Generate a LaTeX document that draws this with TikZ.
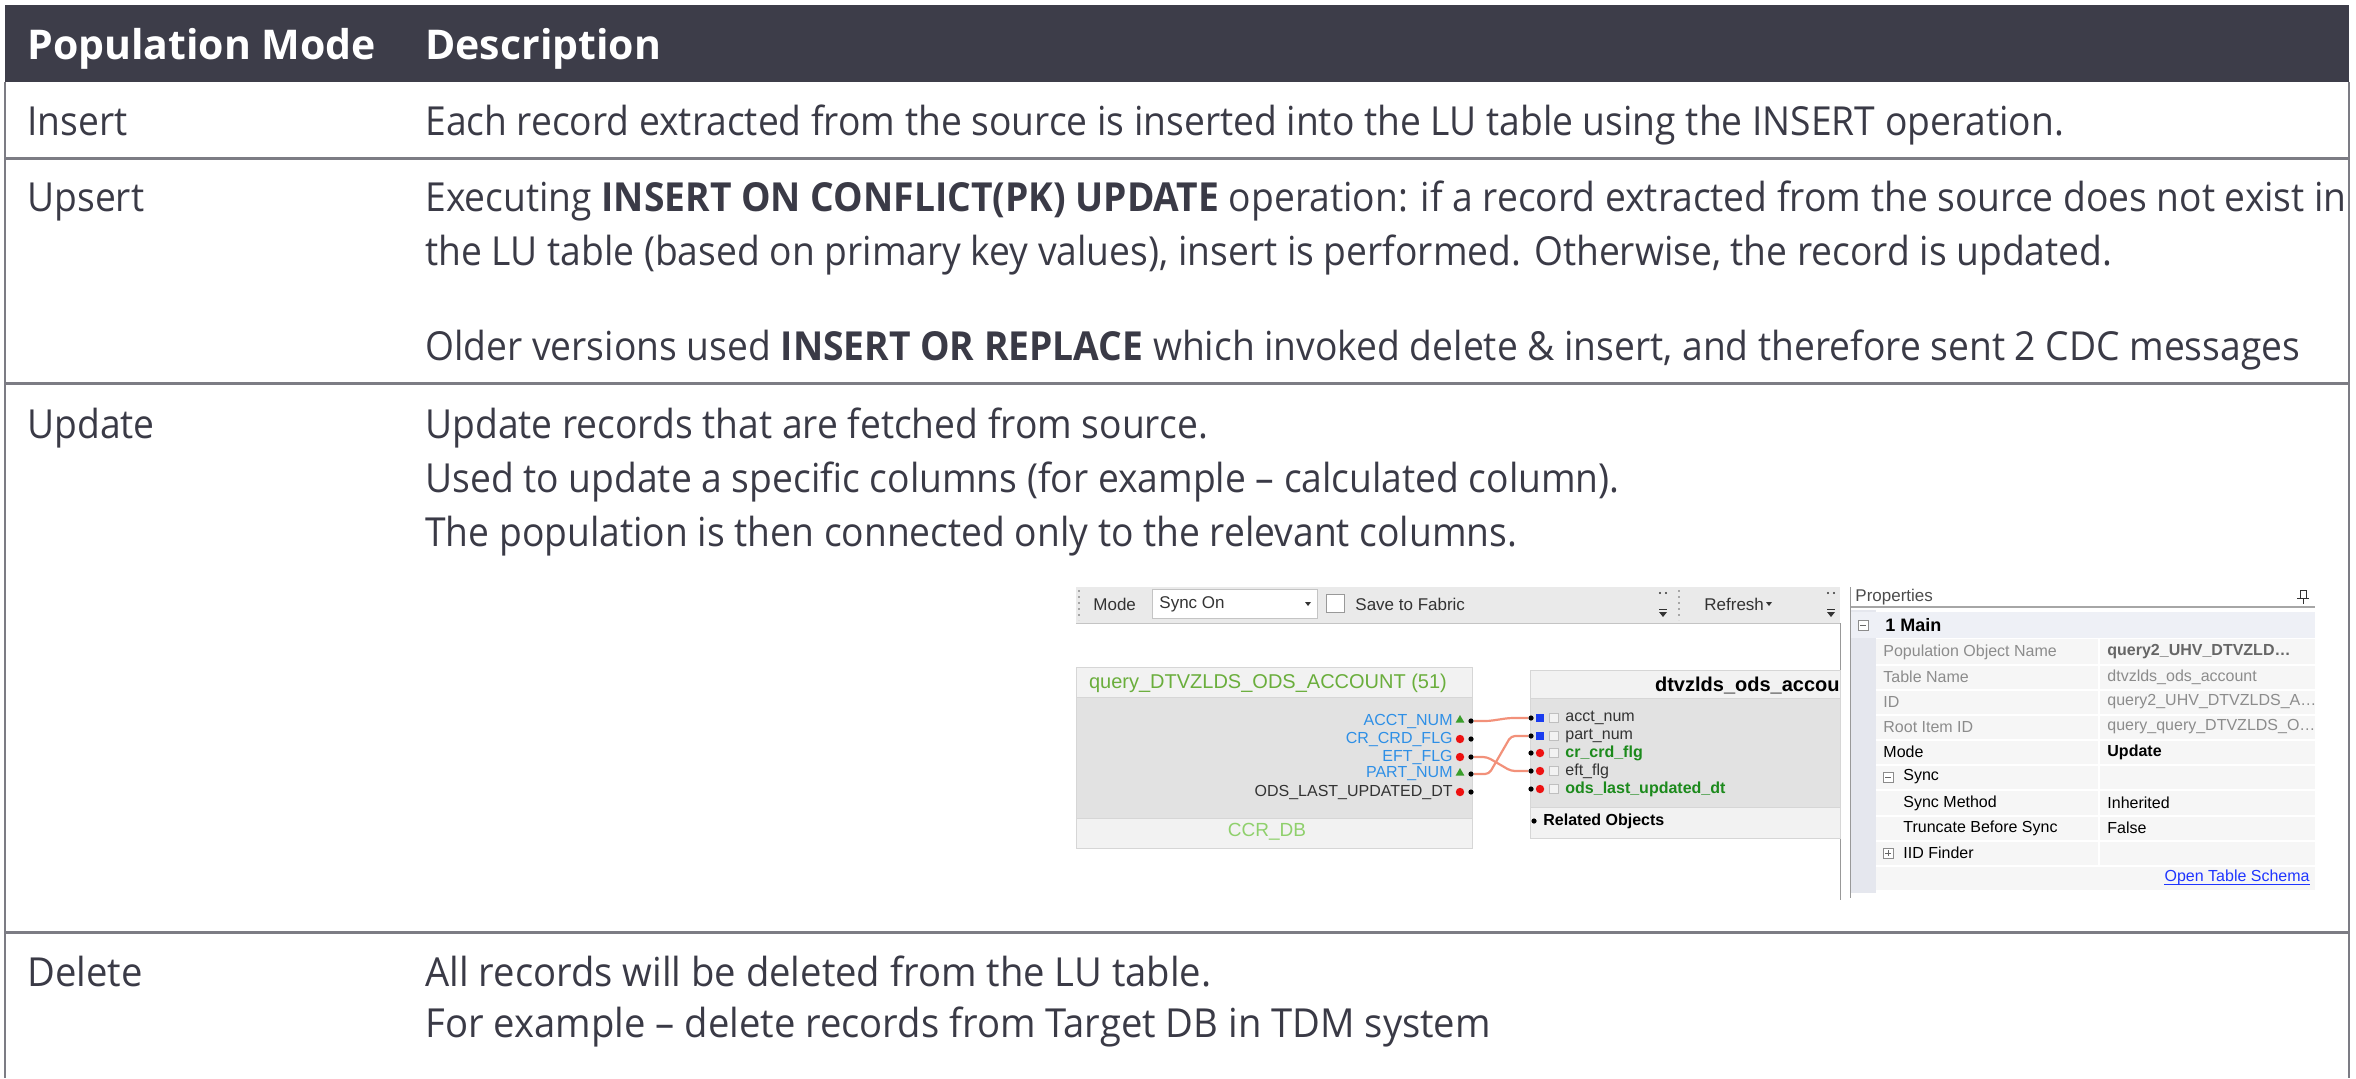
\documentclass[tikz,border=0pt]{standalone}
\usepackage{fontspec}
\setmainfont{Open Sans}[FakeStretch=0.93]
\newfontfamily\headfont{Open Sans}
\newfontfamily\delfont{Open Sans}[FakeStretch=0.955]
\newfontfamily\uifont{Liberation Sans}
\usetikzlibrary{positioning, calc, shapes.geometric}
\definecolor{headBg}{HTML}{3D3D49}
\definecolor{textMain}{HTML}{3A3A46}
\definecolor{ruleGray}{HTML}{7C7C84}
\definecolor{barBg}{HTML}{EAEAEA}
\definecolor{barLine}{HTML}{C4C4C4}
\definecolor{boxHead}{HTML}{F2F2F2}
\definecolor{boxBody}{HTML}{E2E2E2}
\definecolor{boxLine}{HTML}{D6D6D6}
\definecolor{fieldBlue}{HTML}{2E8FE6}
\definecolor{titleGreen}{HTML}{6AAE3C}
\definecolor{dbGreen}{HTML}{8FD06C}
\definecolor{colGreen}{HTML}{1C8A1C}
\definecolor{wireSalmon}{HTML}{F2917A}
\definecolor{markRed}{HTML}{EE1111}
\definecolor{markBlue}{HTML}{1A3CF0}
\definecolor{markGreen}{HTML}{3A9E2A}
\definecolor{uiDark}{HTML}{333333}
\definecolor{propGray}{HTML}{8C8C8C}
\definecolor{propGrid}{HTML}{F6F6F6}
\definecolor{propGutter}{HTML}{E5E7EE}
\definecolor{propSection}{HTML}{EEF0F6}
\definecolor{linkBlue}{HTML}{2036FF}
\tikzset{
  headtext/.style={anchor=base west, inner sep=0pt, text=white,
    font=\headfont\fontsize{20.5}{24}\selectfont\bfseries},
  celltext/.style={anchor=base west, inner sep=0pt, text=textMain,
    font=\fontsize{20}{24}\selectfont},
  deltext/.style={celltext, font=\delfont\fontsize{20}{24}\selectfont},
  rowrule/.style={draw=ruleGray, line width=1.5pt},
  siderule/.style={draw=ruleGray, line width=1pt},
  uitext/.style={anchor=west, inner sep=0pt, text=uiDark,
    font=\uifont\fontsize{8.5}{10}\selectfont},
  fieldtext/.style={uitext, font=\uifont\fontsize{8}{9}\selectfont},
  proptext/.style={uitext, font=\uifont\fontsize{8}{9}\selectfont},
  portdot/.style={circle, fill=black, inner sep=0pt, minimum size=2.6pt},
  reddot/.style={circle, fill=markRed, inner sep=0pt, minimum size=4.2pt},
  bluesq/.style={rectangle, fill=markBlue, inner sep=0pt, minimum size=3.6pt},
  greentri/.style={regular polygon, regular polygon sides=3, fill=markGreen,
    inner sep=0pt, minimum size=5pt},
  chkbox/.style={rectangle, draw=black!25, fill=black!5, inner sep=0pt, minimum size=4.5pt},
  expbox/.style={rectangle, draw=black!45, fill=white, inner sep=0pt, minimum size=5pt},
  wire/.style={draw=wireSalmon, line width=1.1pt, rounded corners=2pt},
}
\begin{document}
\begin{tikzpicture}[x=0.5pt, y=-0.5pt]
  \useasboundingbox (0,0) rectangle (2356,1078);

  % === Table frame ===
  \fill[headBg] (5,5) rectangle (2349,82);
  \draw[rowrule] (5,158) -- (2349,158);
  \draw[rowrule] (5,383) -- (2349,383);
  \draw[rowrule] (5,932) -- (2349,932);
  \draw[siderule] (5,82) -- (5,1078);
  \draw[siderule] (2349,82) -- (2349,1078);

  % === Header ===
  \node[headtext] (hmode) at (27,59) {Population Mode};
  \node[headtext] (hdesc) at (425,59) {Description};

  % === Insert ===
  \node[celltext] (insert) at (27,135) {Insert};
  \node[celltext] (insertA) at (425,135) {Each record extracted from the source is inserted into the LU table using the INSERT operation.};

  % === Upsert ===
  \node[celltext] (upsert) at (27,211) {Upsert};
  \node[celltext] (upsertA) at (425,211) {Executing \textbf{INSERT ON CONFLICT(PK) UPDATE} operation: if a record extracted from the source does not exist in};
  \node[celltext, below=27pt of upsertA.base west, anchor=base west] (upsertB) {the LU table (based on primary key values), insert is performed. Otherwise, the record is updated.};
  \node[celltext, below=47.5pt of upsertB.base west, anchor=base west] (upsertC) {Older versions used \textbf{INSERT OR REPLACE} which invoked delete \& insert, and therefore sent 2 CDC messages};

  % === Update ===
  \node[celltext] (update) at (27,438) {Update};
  \node[celltext] (updateA) at (425,438) {Update records that are fetched from source.};
  \node[celltext, below=27pt of updateA.base west, anchor=base west] (updateB) {Used to update a specific columns (for example – calculated column).};
  \node[celltext, below=27pt of updateB.base west, anchor=base west] (updateC) {The population is then connected only to the relevant columns.};

  % === Delete ===
  \node[deltext] (delete) at (27,986) {Delete};
  \node[deltext] (deleteA) at (425,986) {All records will be deleted from the LU table.};
  \node[deltext, below=25.5pt of deleteA.base west, anchor=base west] (deleteB) {For example – delete records from Target DB in TDM system};

  % === Screenshot: toolbar ===
  \fill[barBg] (1076,587) rectangle (1840,623);
  \draw[barLine] (1076,623) -- (1840,623);
  \draw[black!35, dotted, line width=1pt] (1079,590) -- (1079,620);
  \node[uitext] (modelbl) at (1093,604) {Mode};
  \node[draw=barLine, fill=white, minimum width=82.5pt, minimum height=14.5pt,
    inner sep=0pt, anchor=west] (combo) at (1152,603.5) {};
  \node[uitext] (syncon) at (1159,604) {Sync On};
  \fill[uiDark] (1305,602) -- (1311,602) -- (1308,606) -- cycle;
  \node[draw=black!40, fill=white, minimum size=9pt, inner sep=0pt] (fabricbox) at (1335.5,603.5) {};
  \node[uitext] (fabriclbl) at (1355,604) {Save to Fabric};
  \fill[uiDark] (1660,593) circle[radius=1.2] (1666,593) circle[radius=1.2];
  \draw[uiDark] (1659,609) -- (1667,609);
  \fill[uiDark] (1659,612) -- (1667,612) -- (1663,617) -- cycle;
  \draw[black!35, dotted, line width=1pt] (1679,590) -- (1679,620);
  \node[uitext] (refreshlbl) at (1704,604) {Refresh};
  \fill[uiDark] (1766,602) -- (1772,602) -- (1769,606) -- cycle;
  \fill[uiDark] (1828,593) circle[radius=1.2] (1834,593) circle[radius=1.2];
  \draw[uiDark] (1827,609) -- (1835,609);
  \fill[uiDark] (1827,612) -- (1835,612) -- (1831,617) -- cycle;
  \draw[black!40] (1840,623) -- (1840,900);

  % === Screenshot: source population box ===
  \filldraw[fill=boxHead, draw=boxLine] (1076,667) rectangle (1472,697);
  \filldraw[fill=boxBody, draw=boxLine] (1076,697) rectangle (1472,818);
  \filldraw[fill=boxHead, draw=boxLine] (1076,818) rectangle (1472,848);
  \node[uitext, anchor=center, text=titleGreen, font=\uifont\fontsize{10}{12}\selectfont] (srctitle) at (1268,683) {query\_DTVZLDS\_ODS\_ACCOUNT (51)};
  \node[uitext, anchor=center, text=dbGreen, font=\uifont\fontsize{9.5}{11}\selectfont] (srcdb) at (1267,832) {CCR\_DB};

  \node[fieldtext, anchor=east, text=fieldBlue] (fAcct) at (1453,721) {ACCT\_NUM};
  \node[fieldtext, anchor=east, text=fieldBlue] (fCrd) at (1453,739) {CR\_CRD\_FLG};
  \node[fieldtext, anchor=east, text=fieldBlue] (fEft) at (1453,757) {EFT\_FLG};
  \node[fieldtext, anchor=east, text=fieldBlue] (fPart) at (1453,774) {PART\_NUM};
  \node[fieldtext, anchor=east] (fOds) at (1453,792) {ODS\_LAST\_UPDATED\_DT};
  \node[greentri] (mAcct) at (1460,720) {};
  \node[reddot] (mCrd) at (1460,739) {};
  \node[reddot] (mEft) at (1460,757) {};
  \node[greentri] (mPart) at (1460,773) {};
  \node[reddot] (mOds) at (1460,792) {};
  \node[portdot] (s1) at (1471,721) {};
  \node[portdot] (s2) at (1471,739) {};
  \node[portdot] (s3) at (1471,757) {};
  \node[portdot] (s4) at (1471,774) {};
  \node[portdot] (s5) at (1471,792) {};

  % === Screenshot: target table box ===
  \filldraw[fill=boxHead, draw=boxLine] (1530,670) rectangle (1840,698);
  \filldraw[fill=boxBody, draw=boxLine] (1530,698) rectangle (1840,807);
  \filldraw[fill=boxHead, draw=boxLine] (1530,807) rectangle (1840,838);
  \node[uitext, anchor=east, text=black, font=\uifont\fontsize{10}{12}\selectfont\bfseries] (dsttitle) at (1840,685) {dtvzlds\_ods\_accou};

  \node[portdot] (d1) at (1531,718) {};
  \node[portdot] (d2) at (1531,736) {};
  \node[portdot] (d3) at (1531,753) {};
  \node[portdot] (d4) at (1531,771) {};
  \node[portdot] (d5) at (1531,789) {};
  \node[bluesq] (kAcct) at (1540,718) {};
  \node[bluesq] (kPart) at (1540,736) {};
  \node[reddot] (kCrd) at (1540,753) {};
  \node[reddot] (kEft) at (1540,771) {};
  \node[reddot] (kOds) at (1540,789) {};
  \node[chkbox] (cAcct) at (1554,718) {};
  \node[chkbox] (cPart) at (1554,736) {};
  \node[chkbox] (cCrd) at (1554,753) {};
  \node[chkbox] (cEft) at (1554,771) {};
  \node[chkbox] (cOds) at (1554,789) {};
  \node[fieldtext] (tAcct) at (1565,718) {acct\_num};
  \node[fieldtext] (tPart) at (1565,736) {part\_num};
  \node[fieldtext, text=colGreen, font=\uifont\fontsize{8}{9}\selectfont\bfseries] (tCrd) at (1565,753) {cr\_crd\_flg};
  \node[fieldtext] (tEft) at (1565,771) {eft\_flg};
  \node[fieldtext, text=colGreen, font=\uifont\fontsize{8}{9}\selectfont\bfseries] (tOds) at (1565,789) {ods\_last\_updated\_dt};
  \node[portdot] (relDot) at (1534,821) {};
  \node[fieldtext, text=black, font=\uifont\fontsize{8}{9}\selectfont\bfseries] (relObj) at (1543,821) {Related Objects};

  % === Mapping wires ===
  \draw[wire] (s1) -- ++(18,0) -- ($(d1)+(-22,0)$) -- (d1);
  \draw[wire] (s3) -- ++(16,0) -- ($(d4)+(-20,0)$) -- (d4);
  \draw[wire] (s4) -- ++(18,0) -- ($(d2)+(-20,0)$) -- (d2);

  % === Screenshot: properties panel ===
  \draw[black!40] (1850,587) -- (1850,898);
  \node[uitext, text=black!70] (proptitle) at (1855,597) {Properties};
  \draw[uiDark] (2300,590) rectangle (2306,598);
  \draw[uiDark] (2297,598) -- (2309,598);
  \draw[uiDark] (2303,598) -- (2303,604);
  \draw[black!35, line width=1pt] (1851,607) -- (2315,607);
  \fill[propGutter] (1851,610) rectangle (1876,893);
  \fill[propSection] (1851,612) rectangle (2315,638);
  \fill[propGrid] (1876,639) rectangle (2315,890);
  \draw[white, line width=1pt] (1876,664.5) -- (2315,664.5) (1876,689.5) -- (2315,689.5)
    (1876,714.5) -- (2315,714.5) (1876,739.5) -- (2315,739.5) (1876,764.5) -- (2315,764.5)
    (1876,789.5) -- (2315,789.5) (1876,815.5) -- (2315,815.5) (1876,840.5) -- (2315,840.5)
    (1876,865.5) -- (2315,865.5);
  \draw[white, line width=1pt] (2099,639) -- (2099,865);

  \node[expbox] (exMain) at (1863,625) {};
  \draw[black!60] ($(exMain.center)+(-3,0)$) -- ($(exMain.center)+(3,0)$);
  \node[proptext, text=black, font=\uifont\fontsize{9}{10}\selectfont\bfseries] (pmain) at (1885,625) {1 Main};

  \node[proptext, text=propGray] (pnPop) at (1883,652) {Population Object Name};
  \node[proptext, text=black!60, font=\uifont\fontsize{8}{9}\selectfont\bfseries] (pvPop) at (2107,652) {query2\_UHV\_DTVZLD\ldots};
  \node[proptext, text=propGray] (pnTab) at (1883,677) {Table Name};
  \node[proptext, text=propGray] (pvTab) at (2107,677) {dtvzlds\_ods\_account};
  \node[proptext, text=propGray] (pnId) at (1883,702) {ID};
  \node[proptext, text=propGray] (pvId) at (2107,702) {query2\_UHV\_DTVZLDS\_A\ldots};
  \node[proptext, text=propGray] (pnRoot) at (1883,727) {Root Item ID};
  \node[proptext, text=propGray] (pvRoot) at (2107,727) {query\_query\_DTVZLDS\_O\ldots};
  \node[proptext, text=black] (pnMode) at (1883,752) {Mode};
  \node[proptext, text=black, font=\uifont\fontsize{8}{9}\selectfont\bfseries] (pvMode) at (2107,752) {Update};
  \node[expbox] (exSync) at (1888,777) {};
  \draw[black!60] ($(exSync.center)+(-3,0)$) -- ($(exSync.center)+(3,0)$);
  \node[proptext, text=black] (pnSync) at (1903,777) {Sync};
  \node[proptext, text=black] (pnMeth) at (1903,803) {Sync Method};
  \node[proptext, text=black] (pvMeth) at (2107,803) {Inherited};
  \node[proptext, text=black] (pnTrunc) at (1903,828) {Truncate Before Sync};
  \node[proptext, text=black] (pvTrunc) at (2107,828) {False};
  \node[expbox] (exIid) at (1888,853) {};
  \draw[black!60] ($(exIid.center)+(-3,0)$) -- ($(exIid.center)+(3,0)$)
    ($(exIid.center)+(0,-3)$) -- ($(exIid.center)+(0,3)$);
  \node[proptext, text=black] (pnIid) at (1903,853) {IID Finder};
  \node[proptext, anchor=east, text=linkBlue] (schema) at (2310,877) {Open Table Schema};
  \draw[linkBlue, line width=0.5pt] ($(schema.base west)+(0,3)$) -- ($(schema.base east)+(0,3)$);

\end{tikzpicture}
\end{document}
